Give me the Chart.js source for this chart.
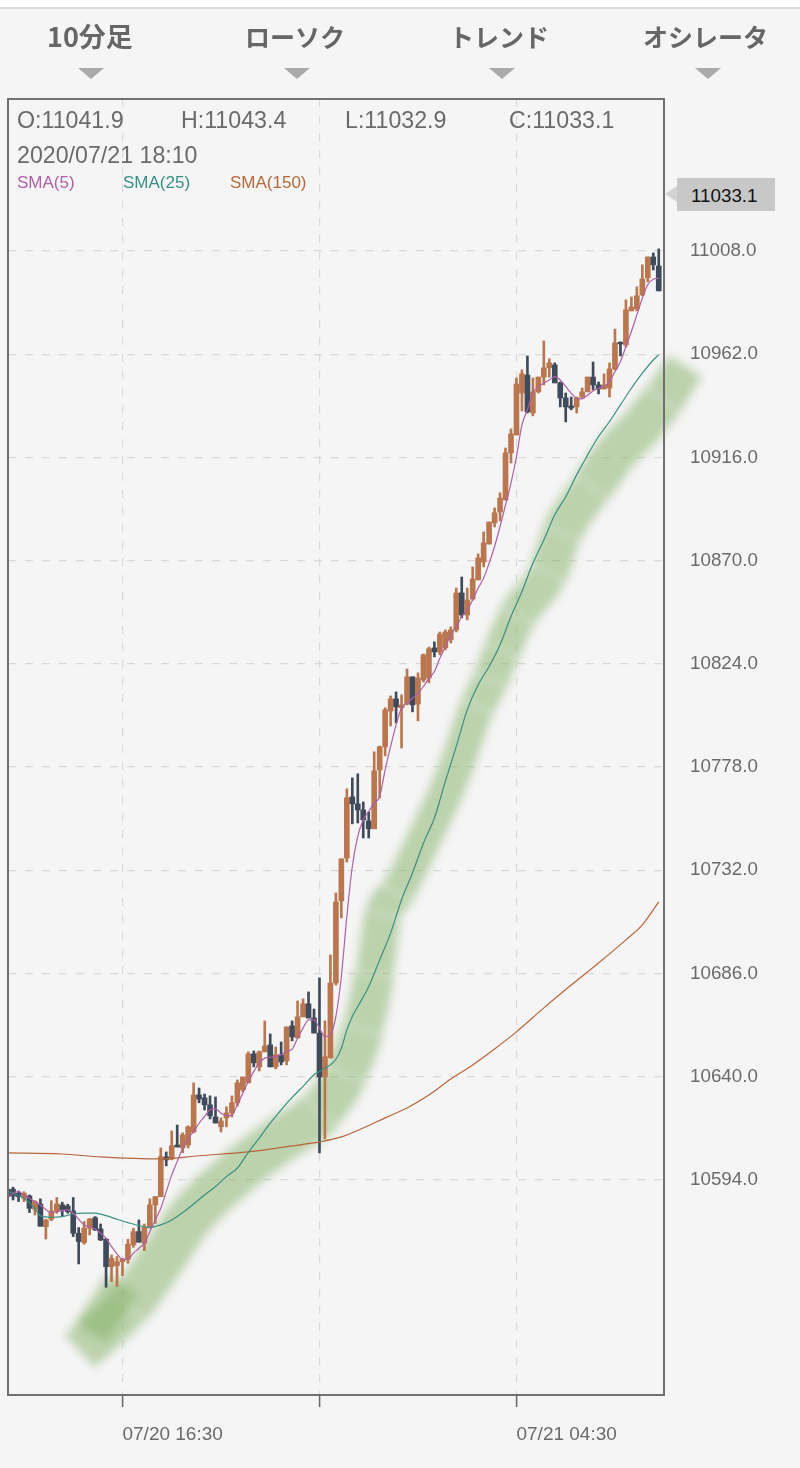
<!DOCTYPE html>
<html lang="ja">
<head>
<meta charset="utf-8">
<title>10分足</title>
<script src="https://cdn.jsdelivr.net/npm/chart.js@4"></script>
<style>
  html, body { margin: 0; padding: 0; background: #f5f5f5; }
  #page { position: relative; width: 800px; height: 1468px; overflow: hidden; font-family: "Liberation Sans", sans-serif; color: #6a6a6a; }
  #chart { position: absolute; left: 0; top: 0; }
  .topbar { position: absolute; left: 0; top: 0; width: 800px; height: 7px; background: #fff; border-bottom: 2px solid #dcdcdc; }
  .menu { position: absolute; top: 18px; font: bold 25px "Noto Sans CJK JP", sans-serif; line-height: 36px; color: #666; white-space: nowrap; }
  .arrow { position: absolute; top: 68px; width: 0; height: 0; border-left: 13.5px solid transparent; border-right: 13.5px solid transparent; border-top: 11px solid #aaa; }
  .ohlc { position: absolute; top: 107px; font-size: 23.2px; line-height: 26px; white-space: nowrap; }
  .date { position: absolute; top: 142px; left: 17px; font-size: 23.2px; line-height: 26px; white-space: nowrap; }
  .sma { position: absolute; top: 173px; font-size: 17px; line-height: 20px; white-space: nowrap; }
  .tag { position: absolute; left: 677px; top: 178px; width: 98px; height: 33px; background: #c8c8c8; color: #111; font-size: 18.8px; line-height: 35px; text-indent: 14px; }
  .tag:before { content: ""; position: absolute; left: -12px; top: 8px; border-top: 8.5px solid transparent; border-bottom: 8.5px solid transparent; border-right: 12px solid #d2d2d2; }
</style>
</head>
<body>
<div id="page">
  <canvas id="chart" width="800" height="1468"></canvas>
  <div class="topbar"></div>
  <div class="menu" style="left:47px;font-size:27px">10分足</div>
  <div class="menu" style="left:245px">ローソク</div>
  <div class="menu" style="left:449px">トレンド</div>
  <div class="menu" style="left:643px">オシレータ</div>
  <div class="arrow" style="left:78px"></div>
  <div class="arrow" style="left:284px"></div>
  <div class="arrow" style="left:489px"></div>
  <div class="arrow" style="left:695px"></div>
  <div class="ohlc" style="left:17px">O:11041.9</div>
  <div class="ohlc" style="left:181px">H:11043.4</div>
  <div class="ohlc" style="left:345px">L:11032.9</div>
  <div class="ohlc" style="left:509px">C:11033.1</div>
  <div class="date">2020/07/21 18:10</div>
  <div class="sma" style="left:17px;color:#b05fa8">SMA(5)</div>
  <div class="sma" style="left:123px;color:#3a8f85">SMA(25)</div>
  <div class="sma" style="left:230px;color:#b5683c">SMA(150)</div>
  <div class="tag">11033.1</div>
</div>
<script>
// candles, one per slot, left to right
const opens = [
  10589.9, 10589.9, 10588.1, 10585.9, 10586.9, 10581.0, 10583.3, 10573.2, 10576.5, 10580.2,
  10582.9, 10582.4, 10580.2, 10570.3, 10566.1, 10572.5, 10577.2, 10572.2, 10567.6, 10555.4,
  10555.9, 10557.6, 10558.7, 10565.1, 10571.0, 10565.8, 10572.8, 10582.9, 10586.6, 10604.3,
  10603.4, 10609.6, 10608.3, 10609.6, 10615.4, 10631.9, 10630.6, 10627.5, 10622.1, 10617.7,
  10621.7, 10623.9, 10628.4, 10634.2, 10637.3, 10650.2, 10644.4, 10651.1, 10654.2, 10644.4,
  10649.8, 10647.1, 10662.7, 10657.3, 10666.7, 10672.5, 10666.2, 10659.5, 10639.9, 10648.4,
  10681.8, 10718.4, 10737.5, 10764.7, 10761.6, 10758.9, 10754.0, 10750.5, 10776.7, 10787.0,
  10803.0, 10808.4, 10804.4, 10806.1, 10818.2, 10806.1, 10816.8, 10817.7, 10831.1, 10829.3,
  10831.1, 10834.7, 10839.1, 10855.6, 10845.8, 10852.9, 10861.4, 10869.4, 10877.4, 10886.8,
  10891.7, 10897.0, 10918.0, 10926.0, 10944.7, 10952.7, 10935.8, 10945.2, 10951.8, 10955.9,
  10957.2, 10949.2, 10942.5, 10938.9, 10938.5, 10942.9, 10945.2, 10951.8, 10948.3, 10946.5,
  10946.9, 10955.4, 10967.3, 10966.1, 10981.3, 10982.2, 10988.4, 10996.0, 11005.3, 11001.3
];
const highs = [
  10590.8, 10590.8, 10589.1, 10588.8, 10587.3, 10584.8, 10585.6, 10576.5, 10584.8, 10586.2,
  10584.1, 10583.2, 10586.2, 10572.8, 10575.5, 10576.9, 10577.7, 10574.4, 10568.0, 10560.6,
  10559.9, 10559.1, 10567.6, 10572.5, 10576.2, 10574.4, 10585.6, 10586.6, 10608.3, 10606.5,
  10615.9, 10618.5, 10615.0, 10618.1, 10637.3, 10635.0, 10632.3, 10631.5, 10631.0, 10621.7,
  10626.6, 10631.5, 10638.6, 10639.9, 10651.1, 10651.5, 10651.5, 10664.9, 10659.1, 10653.3,
  10655.5, 10662.2, 10664.9, 10673.8, 10674.7, 10677.8, 10670.2, 10684.1, 10664.9, 10694.3,
  10721.9, 10737.1, 10768.3, 10773.2, 10775.0, 10762.5, 10758.0, 10784.8, 10787.4, 10804.4,
  10809.7, 10811.5, 10810.2, 10821.7, 10818.2, 10820.0, 10828.4, 10831.5, 10833.8, 10838.2,
  10839.1, 10840.5, 10857.8, 10862.7, 10857.8, 10867.2, 10873.0, 10882.8, 10887.2, 10893.5,
  10900.2, 10920.2, 10928.7, 10951.4, 10955.0, 10961.2, 10951.4, 10951.8, 10967.9, 10959.9,
  10958.1, 10949.6, 10944.7, 10942.9, 10942.9, 10946.9, 10951.8, 10958.5, 10949.6, 10953.2,
  10958.1, 10973.2, 10967.5, 10986.2, 10987.5, 10992.0, 11001.8, 11005.3, 11007.1, 11008.9
];
const lows = [
  10585.9, 10585.1, 10584.4, 10584.4, 10579.5, 10578.4, 10573.4, 10567.7, 10575.9, 10579.2,
  10577.7, 10579.2, 10568.8, 10556.6, 10565.4, 10569.5, 10571.5, 10567.0, 10546.2, 10548.7,
  10546.5, 10551.4, 10556.9, 10564.0, 10566.3, 10562.5, 10572.5, 10574.7, 10586.6, 10600.3,
  10603.0, 10608.7, 10606.1, 10608.3, 10615.0, 10628.4, 10625.2, 10621.2, 10619.4, 10615.4,
  10617.7, 10622.1, 10627.0, 10633.3, 10637.3, 10644.4, 10642.6, 10651.1, 10644.4, 10643.5,
  10645.3, 10645.3, 10656.0, 10657.3, 10666.7, 10666.2, 10659.5, 10606.1, 10612.3, 10648.4,
  10680.9, 10710.8, 10735.7, 10752.7, 10753.1, 10746.4, 10746.4, 10750.5, 10764.3, 10783.0,
  10796.3, 10797.7, 10786.5, 10805.7, 10802.6, 10798.6, 10815.9, 10815.5, 10827.1, 10828.0,
  10830.2, 10833.3, 10838.2, 10844.5, 10843.6, 10852.5, 10861.4, 10867.2, 10877.4, 10885.0,
  10887.7, 10897.0, 10913.5, 10926.0, 10936.7, 10935.8, 10934.5, 10944.7, 10948.3, 10951.8,
  10949.2, 10938.5, 10931.8, 10937.2, 10935.8, 10942.5, 10945.2, 10946.1, 10944.3, 10946.5,
  10942.9, 10955.0, 10961.2, 10965.2, 10981.3, 10981.3, 10988.0, 10994.2, 10999.5, 10990.2
];
const closes = [
  10586.6, 10586.9, 10586.6, 10588.1, 10581.4, 10584.4, 10573.4, 10576.2, 10580.2, 10583.3,
  10580.7, 10579.9, 10570.3, 10566.6, 10572.5, 10576.6, 10571.8, 10567.3, 10555.4, 10559.1,
  10557.6, 10558.7, 10565.4, 10571.0, 10566.3, 10572.9, 10582.9, 10586.6, 10604.4, 10603.0,
  10609.2, 10608.7, 10614.1, 10617.7, 10631.9, 10630.1, 10627.5, 10622.6, 10619.4, 10620.3,
  10623.9, 10628.4, 10637.3, 10639.9, 10650.2, 10646.2, 10651.1, 10653.7, 10644.4, 10649.8,
  10646.6, 10662.2, 10657.8, 10666.7, 10672.5, 10666.2, 10659.5, 10639.9, 10648.9, 10681.8,
  10717.9, 10737.1, 10764.3, 10761.6, 10758.9, 10754.5, 10750.5, 10776.3, 10787.0, 10803.5,
  10808.4, 10804.8, 10805.7, 10818.2, 10805.7, 10817.7, 10828.0, 10830.7, 10829.3, 10837.3,
  10838.2, 10839.1, 10855.6, 10845.8, 10852.5, 10861.8, 10871.2, 10877.9, 10887.2, 10891.3,
  10897.9, 10918.0, 10926.5, 10948.7, 10953.2, 10936.3, 10945.2, 10951.8, 10955.9, 10958.1,
  10949.2, 10942.5, 10938.5, 10938.0, 10942.5, 10945.2, 10951.8, 10948.3, 10946.5, 10948.3,
  10955.4, 10967.0, 10966.6, 10981.7, 10983.0, 10988.0, 10995.5, 11005.3, 11001.8, 10990.2
];

// moving averages (slot, price)
const sma5Slots = [
  0, 1, 2, 3, 4, 5, 6, 8, 9, 11, 12, 13, 14, 15, 16, 17, 18, 19, 20, 21, 22, 23, 24, 25, 26, 27, 28, 29, 30, 31, 32, 33,
  34, 35, 36, 37, 38, 39, 40, 41, 42, 43, 44, 45, 46, 47, 48, 49, 50, 51, 52, 53, 54, 55, 56, 57, 58, 59, 60, 61,
  62, 63, 64, 65, 66, 67, 68, 69, 70, 71, 72, 73, 74, 75, 76, 77, 78, 79, 80, 81, 82, 83, 84, 85, 86, 87, 88, 89,
  90, 91, 92, 93, 94, 95, 96, 97, 98, 99, 100, 101, 102, 103, 104, 105, 106, 107, 108, 109, 110, 111, 112, 113,
  114, 115, 116, 117, 118, 119
];
const sma5Values = [
  10585.9, 10588.1, 10588.8, 10587.3, 10585.9, 10584.4, 10582.9, 10579.5, 10579.9, 10580.7, 10579.2, 10576.5, 10574.0, 10573.2, 10572.2, 10570.3,
  10568.0, 10564.3, 10561.1, 10558.7, 10558.7, 10561.4, 10563.6, 10565.8, 10571.0, 10576.2, 10581.4, 10588.8, 10596.3, 10602.2, 10608.1, 10612.6,
  10615.6, 10619.3, 10622.3, 10625.3, 10625.7, 10623.8, 10622.6, 10623.0, 10627.5, 10632.7, 10637.9, 10642.4, 10646.1, 10648.3, 10648.7, 10649.0,
  10649.8, 10651.3, 10652.3, 10657.2, 10661.7, 10665.4, 10665.4, 10661.7, 10657.9, 10658.7, 10666.9, 10684.7,
  10711.4, 10733.7, 10747.1, 10754.5, 10758.2, 10761.9, 10764.9, 10776.8, 10787.2, 10796.8, 10804.3, 10806.5, 10808.7, 10810.9, 10813.9, 10817.6,
  10820.6, 10826.5, 10831.7, 10836.9, 10840.6, 10845.1, 10848.1, 10852.5, 10857.7, 10862.2, 10868.8, 10876.3,
  10885.2, 10894.8, 10904.5, 10916.4, 10930.5, 10937.2, 10944.6, 10947.6, 10949.0, 10950.5, 10952.0, 10950.5, 10947.6, 10944.6, 10942.4, 10942.1,
  10943.8, 10945.6, 10946.8, 10947.6, 10949.8, 10954.2, 10958.7, 10965.4,
  10972.1, 10979.5, 10986.9, 10992.9, 10995.4, 10995.8
];
const sma25Slots = [
  0, 3, 5, 6, 8, 10, 12, 14, 16, 18, 20, 22, 24, 26, 28, 30, 32, 34, 36, 38, 40, 42, 44, 46, 48, 50, 52, 54, 56, 57, 58, 59, 60, 61, 62, 63, 64,
  66, 68, 70, 72, 74, 76, 78, 80, 82, 84, 86, 88, 90, 92, 94, 96, 98, 100, 102, 104, 106, 108, 110, 112, 114, 116, 118, 119
];
const sma25Values = [
  10588.8, 10585.9, 10581.4, 10578.0, 10577.4, 10577.7, 10578.9, 10579.2, 10579.2, 10578.1, 10576.5, 10575.0, 10573.7, 10572.9, 10574.0, 10576.2,
  10579.5, 10583.3, 10587.3, 10591.1, 10595.5, 10599.3, 10606.3, 10612.7, 10619.3, 10625.3, 10630.8, 10635.7, 10640.9, 10642.4, 10643.8, 10645.3,
  10647.8, 10652.7, 10660.9, 10666.9, 10671.3,
  10680.2, 10692.1, 10704.0, 10718.9, 10730.8, 10744.1, 10755.3, 10771.6, 10787.2, 10803.5, 10814.7, 10822.8, 10832.5, 10845.1, 10856.2, 10868.8,
  10879.2, 10890.4, 10898.5, 10908.2, 10917.1, 10925.3, 10932.0, 10939.4, 10946.8, 10953.5, 10959.4, 10961.7
];
const sma150Slots = [0, 10, 17, 28, 35, 44, 52, 57, 61, 65, 69, 73, 77, 81, 85, 89, 93, 98, 103, 108, 113, 116, 119];
const sma150Values = [
  10606.1, 10605.6, 10604.3, 10603.4, 10604.8, 10606.5, 10609.2, 10611.0, 10613.2, 10617.2, 10621.7, 10626.1,
  10631.9, 10639.0, 10645.3, 10652.4, 10660.0, 10670.7, 10680.9, 10690.7, 10701.0, 10707.7, 10717.9
];

// green marker stroke laid over the chart by hand
const markerSlots = [
  13.2, 22.0, 29.1, 33.0, 42.5, 49.8, 57.1, 61.7, 64.8, 67.0, 68.6, 71.2, 76.3, 81.4, 85.8, 88.2, 90.4, 93.3, 98.8, 101.3, 106.8, 111.4, 115.6, 118.0, 119.8, 123.8
];
const markerValues = [
  10517.8, 10537.9, 10562.0, 10576.2, 10598.5, 10611.9, 10624.4, 10640.8, 10660.9, 10685.4, 10712.1, 10721.9, 10746.9, 10774.5, 10804.8, 10816.8,
  10830.2, 10845.8, 10864.5, 10882.3, 10902.8, 10918.4, 10929.1, 10936.3, 10941.6, 10956.7
];
const markerWidths = [44, 46, 46, 46, 46, 46, 44, 42, 40, 37, 35, 34, 34, 34, 35, 36, 37, 38, 39, 40, 42, 42, 42, 42, 40, 40];
const marker2Slots = [15.3, 20.9];
const marker2Values = [10525.9, 10547.3];

const yTickValues = [10594, 10640, 10686, 10732, 10778, 10824, 10870, 10916, 10962, 11008];
const xTickSlots = [21, 57, 93];
const xTickLabels = ["07/20 16:30", "", "07/21 04:30"];

const UP_COLOR = "#b9764f";
const DOWN_COLOR = "#3f4a5a";
const GRID_COLOR = "#d9d9d9";
const FONT = "'Liberation Sans', sans-serif";

function toPoints(xs, ys) {
  return xs.map((x, i) => ({ x, y: ys[i] }));
}

const candleColors = opens.map((o, i) => (closes[i] >= o ? UP_COLOR : DOWN_COLOR));
const wicks = opens.map((_, i) => ({ x: i, y: [lows[i], highs[i]] }));
const bodies = opens.map((o, i) => ({ x: i, y: [Math.min(o, closes[i]), Math.max(o, closes[i])] }));

function smaDataset(label, data, color) {
  return {
    type: "line",
    label,
    data,
    borderColor: color,
    borderWidth: 1.2,
    pointRadius: 0,
    cubicInterpolationMode: "monotone",
    order: 0,
  };
}

function markerDataset(label, data, width) {
  return {
    type: "line",
    label,
    data,
    borderColor: "rgba(130,175,100,0.5)",
    borderWidth: width,
    borderCapStyle: "butt",
    borderJoinStyle: "round",
    pointRadius: 0,
    clip: false,
    soft: true,
    order: 5,
  };
}

const markerMain = markerDataset("marker", toPoints(markerSlots, markerValues), 44);
markerMain.cubicInterpolationMode = "monotone";
// the pen pressure changes along the stroke
markerMain.segment = {
  borderWidth: (ctx) => markerWidths[ctx.p0DataIndex],
};

// blurs the marker strokes and draws the plot frame
const framePlugin = {
  id: "frame",
  beforeDatasetDraw(chart, args) {
    if (chart.data.datasets[args.index].soft) chart.ctx.filter = "blur(5px)";
  },
  afterDatasetDraw(chart) {
    chart.ctx.filter = "none";
  },
  afterDraw(chart) {
    const { left, top, right, bottom } = chart.chartArea;
    const ctx = chart.ctx;
    ctx.save();
    ctx.strokeStyle = "#707070";
    ctx.lineWidth = 2;
    ctx.strokeRect(left, top, right - left, bottom - top);
    ctx.restore();
  },
};

new Chart(document.getElementById("chart"), {
  type: "bar",
  data: {
    datasets: [
      smaDataset("SMA(5)", toPoints(sma5Slots, sma5Values), "#b05fa8"),
      smaDataset("SMA(25)", toPoints(sma25Slots, sma25Values), "#3a8f80"),
      smaDataset("SMA(150)", toPoints(sma150Slots, sma150Values), "#b8653a"),
      { label: "body", data: bodies, backgroundColor: candleColors, barThickness: 5, grouped: false, order: 1 },
      { label: "wick", data: wicks, backgroundColor: candleColors, barThickness: 2, grouped: false, order: 2 },
      markerMain,
      markerDataset("marker2", toPoints(marker2Slots, marker2Values), 37),
    ],
  },
  options: {
    responsive: false,
    animation: false,
    events: [],
    layout: { padding: { left: 8, top: 99, right: 0, bottom: 0 } },
    plugins: { legend: { display: false }, tooltip: { enabled: false } },
    scales: {
      x: {
        type: "linear",
        offset: false,
        min: 0.08,
        max: 119.96,
        afterBuildTicks: (scale) => {
          scale.ticks = xTickSlots.map((value) => ({ value }));
        },
        afterFit: (scale) => {
          scale.height = 73;
        },
        border: { display: false, dash: [8, 9] },
        grid: { offset: false, color: GRID_COLOR, lineWidth: 1.2, tickColor: "#666", tickWidth: 1.5, tickLength: 12 },
        ticks: {
          autoSkip: false,
          maxRotation: 0,
          align: "start",
          padding: 16,
          color: "#6a6a6a",
          font: { family: FONT, size: 19 },
          callback: (value, index) => xTickLabels[index],
        },
      },
      y: {
        position: "right",
        min: 10498.2,
        max: 11075.7,
        afterBuildTicks: (scale) => {
          scale.ticks = yTickValues.map((value) => ({ value }));
        },
        afterFit: (scale) => {
          scale.width = 136;
        },
        border: { display: false, dash: [8, 9] },
        grid: { color: GRID_COLOR, lineWidth: 1.2, drawTicks: false },
        ticks: {
          padding: 26,
          color: "#6a6a6a",
          font: { family: FONT, size: 18.8 },
          callback: (value) => value.toFixed(1),
        },
      },
    },
  },
  plugins: [framePlugin],
});
</script>
</body>
</html>
